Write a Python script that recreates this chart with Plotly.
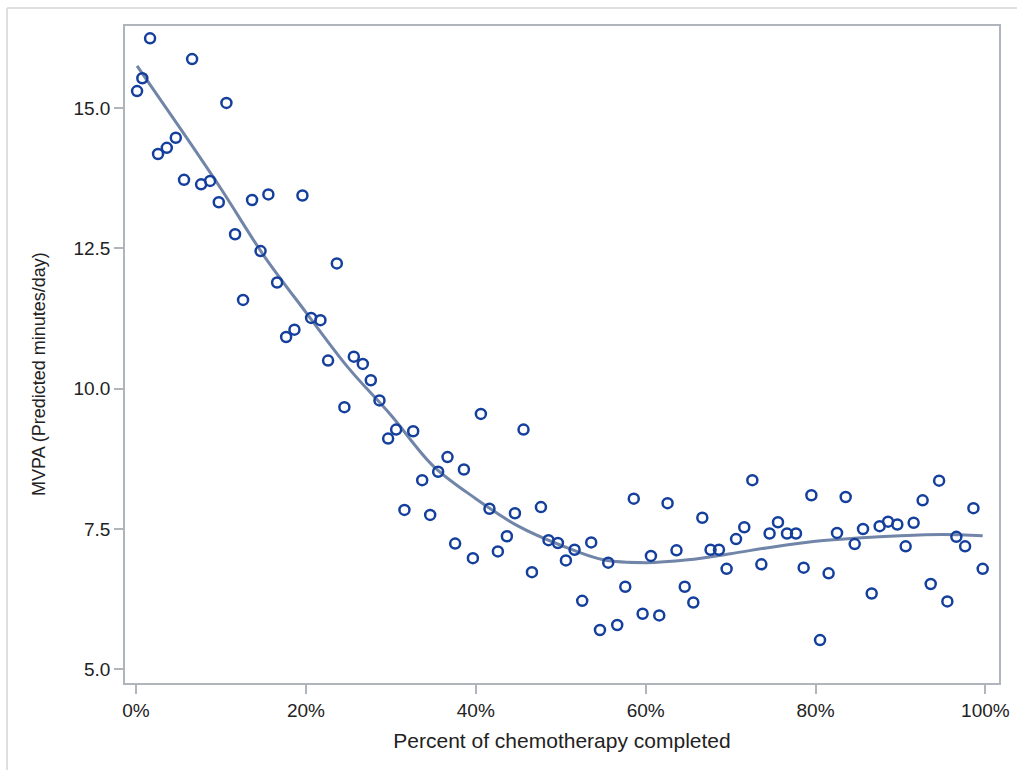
import plotly.graph_objects as go

# Observed MVPA values by percent of chemotherapy completed
pct_completed = [
    0.12, 0.74, 1.65, 2.59, 3.62, 4.68, 5.65, 6.60, 7.66, 8.72,
    9.74, 10.64, 11.66, 12.60, 13.66, 14.66, 15.58, 16.61, 17.67, 18.65,
    19.59, 20.61, 21.71, 22.61, 23.64, 24.53, 25.64, 26.70, 27.64, 28.66,
    29.68, 30.62, 31.60, 32.63, 33.69, 34.63, 35.57, 36.67, 37.57, 38.60,
    39.66, 40.60, 41.61, 42.60, 43.66, 44.61, 45.62, 46.61, 47.67, 48.56,
    49.67, 50.61, 51.63, 52.53, 53.59, 54.62, 55.59, 56.65, 57.60, 58.60,
    59.64, 60.62, 61.60, 62.58, 63.63, 64.60, 65.61, 66.67, 67.64, 68.63,
    69.53, 70.64, 71.61, 72.56, 73.62, 74.59, 75.58, 76.64, 77.70, 78.60,
    79.51, 80.53, 81.54, 82.53, 83.55, 84.61, 85.59, 86.61, 87.55, 88.54,
    89.63, 90.61, 91.55, 92.61, 93.56, 94.55, 95.52, 96.58, 97.61, 98.59,
    99.68,
]
mvpa = [
    15.30, 15.53, 16.24, 14.18, 14.29, 14.47, 13.72, 15.87, 13.64, 13.70,
    13.32, 15.09, 12.75, 11.58, 13.36, 12.45, 13.46, 11.89, 10.92, 11.05,
    13.44, 11.26, 11.22, 10.50, 12.23, 9.67, 10.57, 10.44, 10.15, 9.79,
    9.11, 9.27, 7.84, 9.24, 8.37, 7.75, 8.52, 8.78, 7.24, 8.56,
    6.98, 9.55, 7.86, 7.10, 7.37, 7.78, 9.27, 6.73, 7.89, 7.30,
    7.25, 6.94, 7.13, 6.22, 7.26, 5.70, 6.90, 5.79, 6.47, 8.04,
    5.99, 7.02, 5.96, 7.96, 7.12, 6.47, 6.19, 7.70, 7.13, 7.13,
    6.79, 7.32, 7.53, 8.37, 6.87, 7.42, 7.62, 7.42, 7.42, 6.81,
    8.10, 5.52, 6.71, 7.43, 8.07, 7.23, 7.50, 6.35, 7.55, 7.63,
    7.58, 7.19, 7.61, 8.01, 6.52, 8.36, 6.21, 7.36, 7.19, 7.87,
    6.79,
]

# Smoothed trend
fit_pct = [0.12, 5, 10, 15, 20, 25, 30, 35, 40, 45, 50, 55, 60, 65, 70,
           75, 80, 85, 90, 95, 99.68]
fit_mvpa = [15.75, 14.68, 13.56, 12.38, 11.36, 10.37, 9.53, 8.62, 8.04, 7.55,
            7.21, 6.95, 6.90, 6.95, 7.06, 7.18, 7.28, 7.34, 7.38, 7.40, 7.38]

x_tickvals = [0, 20, 40, 60, 80, 100]
x_ticklabels = ["0%", "20%", "40%", "60%", "80%", "100%"]
y_tickvals = [5.0, 7.5, 10.0, 12.5, 15.0]
y_ticklabels = ["5.0", "7.5", "10.0", "12.5", "15.0"]

W, H = 1017, 770
ML, MR, MT, MB = 125, 18, 26, 87
frame_col = "#b0b5bb"
text_col = "#222222"
font_fam = "Liberation Sans, Arial, sans-serif"

fig = go.Figure()
fig.add_trace(go.Scatter(
    x=fit_pct, y=fit_mvpa, mode="lines", line_shape="spline",
    line=dict(color="#7185a8", width=3), hoverinfo="skip", showlegend=False,
))
fig.add_trace(go.Scatter(
    x=pct_completed, y=mvpa, mode="markers", showlegend=False,
    marker=dict(symbol="circle-open", size=10, color="#143f9c",
                line=dict(width=2.5, color="#143f9c")),
))

axis_common = dict(
    showgrid=False, zeroline=False, showline=True, mirror=True,
    linecolor=frame_col, linewidth=1.5, ticks="outside", ticklen=9,
    tickwidth=1.5, tickcolor=frame_col,
    tickfont=dict(family=font_fam, size=19, color=text_col),
)
fig.update_xaxes(
    range=[-1.3, 101.6], tickvals=x_tickvals, ticktext=x_ticklabels,
    title=dict(text="Percent of chemotherapy completed",
               font=dict(family=font_fam, size=21, color=text_col), standoff=14),
    **axis_common,
)
fig.update_yaxes(
    range=[4.756, 16.46], tickvals=y_tickvals, ticktext=y_ticklabels,
    **axis_common,
)

pw, ph = W - ML - MR, H - MT - MB
def px_x(p):
    return (p - ML) / pw
def px_y(p):
    return (H - MB - p) / ph

# Vertical axis title
fig.add_annotation(
    text="MVPA (Predicted minutes/day)", textangle=-90, showarrow=False,
    xref="paper", yref="paper", x=px_x(39), y=px_y(374),
    xanchor="center", yanchor="middle",
    font=dict(family=font_fam, size=18, color=text_col),
)

# Light outer border of the graph area
fig.add_shape(type="line", xref="paper", yref="paper",
              x0=px_x(7), x1=px_x(W + 5), y0=px_y(8), y1=px_y(8),
              line=dict(color="#d4d4d4", width=1.5))
fig.add_shape(type="line", xref="paper", yref="paper",
              x0=px_x(7), x1=px_x(7), y0=px_y(8), y1=px_y(H + 5),
              line=dict(color="#d4d4d4", width=1.5))

fig.update_layout(
    width=W, height=H, autosize=False,
    margin=dict(l=ML, r=MR, t=MT, b=MB, autoexpand=False),
    paper_bgcolor="white", plot_bgcolor="white",
)
fig.write_html("out.html")
